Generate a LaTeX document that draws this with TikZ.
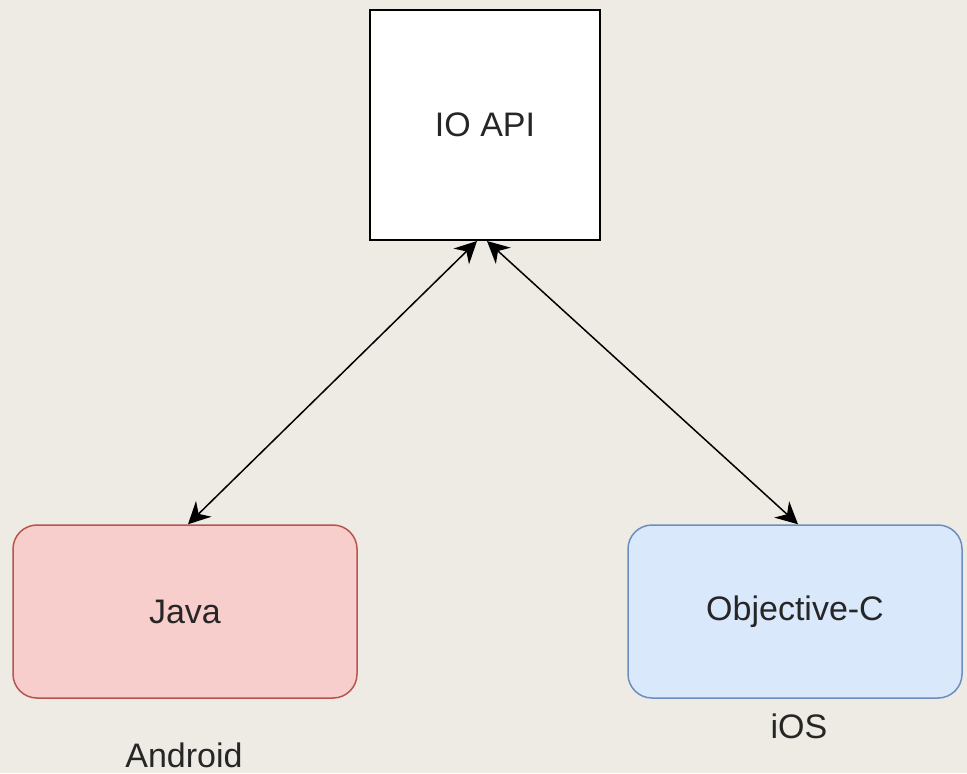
\documentclass[tikz,border=0pt]{standalone}
\usepackage{fontspec}
\setmainfont{Liberation Sans}
\usetikzlibrary{arrows.meta,calc}
\definecolor{bg}{HTML}{EEEBE4}
\definecolor{txt}{HTML}{262626}
\definecolor{pinkfill}{HTML}{F8CECC}
\definecolor{pinkdraw}{HTML}{B85450}
\definecolor{bluefill}{HTML}{DAE8FC}
\definecolor{bluedraw}{HTML}{6C8EBF}
\tikzset{
  lbl/.style={font=\fontsize{17}{20}\selectfont, text=txt},
  apibox/.style={draw=black, fill=white, line width=1pt, minimum width=115pt, minimum height=115pt, inner sep=0pt, lbl},
  langbox/.style={rounded corners=12pt, line width=0.75pt, minimum height=86.5pt, inner sep=0pt, lbl},
  link/.style={draw=black, line width=0.75pt, {Stealth[length=11pt,width=11pt]}-{Stealth[length=11pt,width=11pt]}}
}
\begin{document}
\begin{tikzpicture}[x=0.5pt,y=-0.5pt]
\fill[bg] (0,0) rectangle (967,773);
\useasboundingbox (0,0) rectangle (967,773);
\node[apibox] (io) at (485,125) {IO API};
\node[langbox, fill=pinkfill, draw=pinkdraw, minimum width=172pt] (java) at (185,611.5) {Java};
\node[langbox, fill=bluefill, draw=bluedraw, minimum width=167pt] (objc) at (795,611.5) {Objective-C};
\node[lbl, inner sep=0pt] (android) at (184,755) {Android};
\node[lbl, inner sep=0pt] (ios) at (799,726) {iOS};
\coordinate (ioL) at ($(io.south)+(-8,0)$);
\coordinate (ioR) at ($(io.south)+(2,0)$);
\coordinate (javaT) at ($(java.north)+(3,0)$);
\coordinate (objcT) at ($(objc.north)+(3,0)$);
\draw[link] (javaT) -- (ioL);
\draw[link] (ioR) -- (objcT);
\end{tikzpicture}
\end{document}
